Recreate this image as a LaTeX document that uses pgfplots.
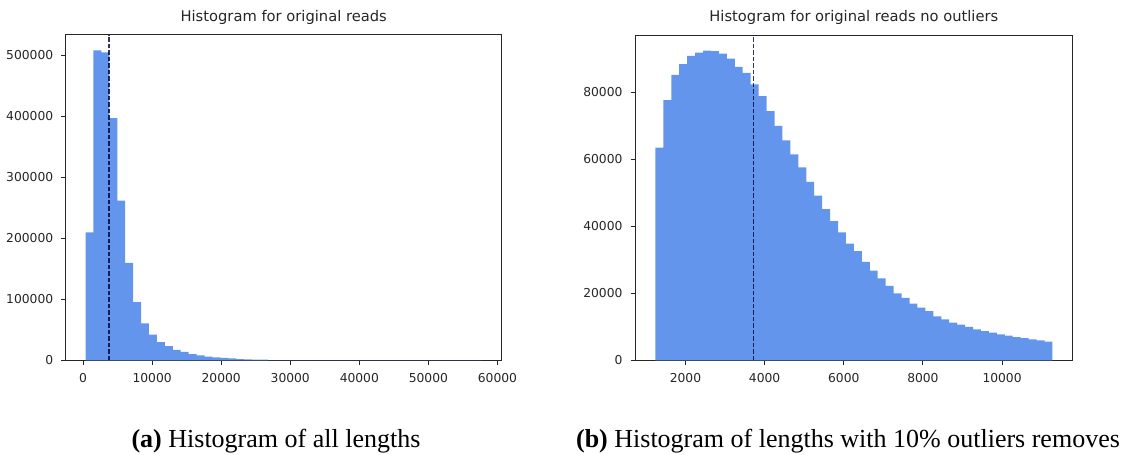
\documentclass[border=0pt]{standalone}
\usepackage{pgfplots}
\usepackage{pgfplotstable}
\pgfplotsset{compat=1.18}
\usepackage{fontspec}
\setmainfont{DejaVu Sans}
\newfontfamily\capfont{Liberation Serif}
\definecolor{cfblue}{HTML}{6495ED}
\definecolor{txt}{HTML}{262626}

\pgfplotstableread{
x y
350 210000
1499 508000
2648 505000
3797 397000
4946 262000
6095 160000
7244 95500
8393 61000
9542 42500
10691 30000
11840 23500
12989 17500
14138 14000
15287 10500
16436 8500
17585 6500
18734 5300
19883 4300
21032 3300
22181 2200
23330 1900
24479 1600
25628 1400
26777 400
27926 350
29075 300
30224 250
31373 200
32522 150
33671 120
34820 100
35969 80
37118 70
38267 60
39416 50
40565 40
41714 35
42863 30
44012 25
45161 20
46310 18
47459 15
48608 12
49757 10
50906 8
52055 6
53204 5
54353 4
55502 3
56651 3
57800 3
}\lefttable

\pgfplotstableread{
x y
1240 63500
1440.66 77700
1641.32 85200
1841.98 88400
2042.64 90900
2243.3 91900
2443.96 92500
2644.62 92300
2845.28 91600
3045.94 90100
3246.6 87600
3447.26 85800
3647.92 82400
3848.58 78900
4049.24 74400
4249.9 70000
4450.56 65700
4651.22 61500
4851.88 57600
5052.54 53300
5253.2 49200
5453.86 45200
5654.52 41600
5855.18 38200
6055.84 34900
6256.5 32600
6457.16 29400
6657.82 26800
6858.48 24500
7059.14 22300
7259.8 20000
7460.46 18700
7661.12 17000
7861.78 15800
8062.44 14700
8263.1 13200
8463.76 12300
8664.42 11300
8865.08 10700
9065.74 10000
9266.4 9300
9467.06 8800
9667.72 8300
9868.38 7800
10069.04 7400
10269.7 7000
10470.36 6700
10671.02 6300
10871.68 6000
11072.34 5600
11273 5600
}\righttable

\pgfplotsset{
  hist/.style={
    scale only axis,
    anchor=south west,
    height=325.5pt,
    ymin=0,
    axis line style={black!85, line width=1pt},
    tick align=outside,
    tick pos=left,
    major tick length=4.5pt,
    tick style={black!85, line width=1pt},
    scaled ticks=false,
    /pgf/number format/.cd, fixed, precision=0, 1000 sep={}, assume math mode=true,
    /pgfplots/.cd,
    ticklabel style={font=\fontsize{12.3}{14}\selectfont, text=txt},
    xticklabel style={yshift=-4.5pt},
    yticklabel style={xshift=-4.5pt},
    title style={font=\fontsize{14.7}{17}\selectfont, text=txt, at={(0.5,1)}, anchor=base, yshift=7.5pt},
  }
}

\begin{document}
\begin{tikzpicture}
\path[use as bounding box] (0pt,0pt) rectangle (1125pt,455pt);

\begin{axis}[hist,
  at={(65.7pt,94.5pt)}, width=436pt,
  xmin=-2520, xmax=60620, ymax=533400,
  xtick={0,10000,20000,30000,40000,50000,60000},
  ytick={0,100000,200000,300000,400000,500000},
  title={Histogram for original reads}]
\addplot[ybar interval, fill=cfblue, draw=none] table[x=x,y=y] {\lefttable};
\addplot[black!80!blue, opacity=0.8, line width=1.6pt, dash pattern=on 4.5pt off 2pt] coordinates {(3720,0) (3720,533400)};
\end{axis}

\begin{axis}[hist,
  at={(635pt,94.5pt)}, width=437.7pt,
  xmin=725, xmax=11785, ymax=97125,
  xtick={2000,4000,6000,8000,10000},
  ytick={0,20000,40000,60000,80000},
  title={Histogram for original reads no outliers}]
\addplot[ybar interval, fill=cfblue, draw=none] table[x=x,y=y] {\righttable};
\addplot[black!80!blue, opacity=0.8, line width=1.6pt, dash pattern=on 4.5pt off 2pt] coordinates {(3720,0) (3720,97125)};
\end{axis}

\node[font=\capfont\fontsize{26}{30}\selectfont, anchor=base] at (276pt,7.3pt) {\textbf{(a)} Histogram of all lengths};
\node[font=\capfont\fontsize{26}{30}\selectfont, anchor=base] at (848pt,7.3pt) {\textbf{(b)} Histogram of lengths with 10\% outliers removes};
\end{tikzpicture}
\end{document}
